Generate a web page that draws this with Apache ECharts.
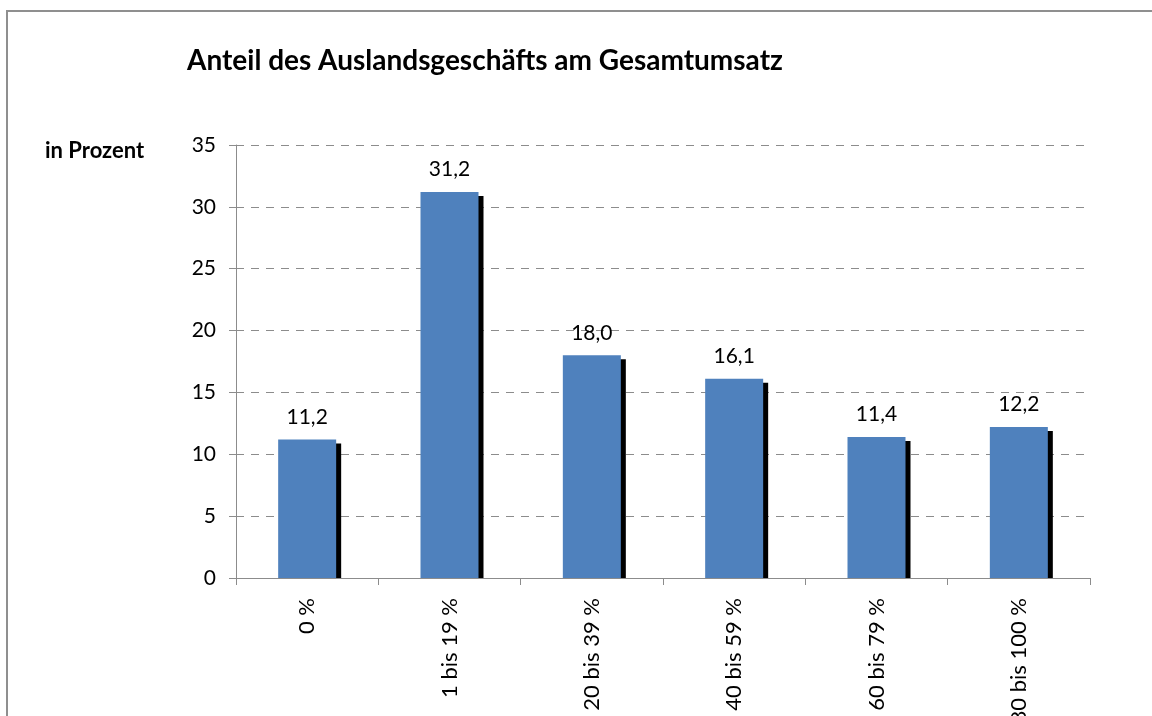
<!DOCTYPE html>
<html lang="de">
<head>
    <meta charset="UTF-8">
    <title>Anteil des Auslandsgeschäfts am Gesamtumsatz</title>
    <script src="https://cdn.jsdelivr.net/npm/echarts@6/dist/echarts.min.js"></script>
    <style>
        body { margin: 0; overflow: hidden; background: #fff; }
        #frame { position: absolute; left: 6px; top: 10px; width: 1300px; height: 900px; border: 2px solid #8f8f8f; }
        #chart { position: absolute; left: 0; top: 0; width: 1152px; height: 716px; }
    </style>
</head>
<body>
<div id="frame"></div>
<div id="chart"></div>
<script>
    // Kategorien und Werte (in Prozent)
    var categories = ['0 %', '1 bis 19 %', '20 bis 39 %', '40 bis 59 %', '60 bis 79 %', '80 bis 100 %'];
    var values = [11.2, 31.2, 18.0, 16.1, 11.4, 12.2];
    var yTicks = [0, 5, 10, 15, 20, 25, 30, 35];

    var font = 'Lato, "Open Sans", sans-serif';
    var gridLeft = 236, gridRight = 62, gridTop = 145, gridBottom = 138;
    var chart = echarts.init(document.getElementById('chart'));

    var option = {
        animation: false,
        title: [{
            text: 'Anteil des Auslandsgeschäfts am Gesamtumsatz',
            left: 182,
            top: 42,
            textStyle: { color: '#000', fontWeight: 'bold', fontFamily: font, fontSize: 28 }
        }, {
            text: 'in Prozent',
            left: 40,
            top: 135,
            textStyle: { color: '#000', fontWeight: 'bold', fontFamily: font, fontSize: 22 }
        }],
        grid: {
            left: gridLeft, right: gridRight, top: gridTop, bottom: gridBottom,
            containLabel: false, outerBoundsMode: 'none'
        },
        // weisser Streifen unter der Achse, damit der Schatten dort endet
        graphic: [{
            type: 'rect',
            z: 50,
            shape: { x: gridLeft + 1, y: 716 - gridBottom + 1, width: 1152 - gridLeft - gridRight, height: 5 },
            style: { fill: '#fff' }
        }],
        xAxis: {
            type: 'category',
            data: categories,
            z: 60,
            axisLine: { lineStyle: { color: '#8c8c8c', width: 1 } },
            axisTick: { show: true, length: 7, lineStyle: { color: '#8c8c8c' } },
            axisLabel: { rotate: 90, margin: 20, color: '#000', fontFamily: font, fontSize: 22, interval: 0 }
        },
        yAxis: {
            type: 'value',
            min: yTicks[0],
            max: yTicks[yTicks.length - 1],
            interval: 5,
            axisLine: { show: true, lineStyle: { color: '#8c8c8c', width: 1 } },
            axisTick: { show: true, length: 7, lineStyle: { color: '#8c8c8c' } },
            axisLabel: { margin: 20, color: '#000', fontFamily: font, fontSize: 21 },
            splitLine: { show: true, lineStyle: { color: '#8c8c8c', type: [8, 7], width: 1 } }
        },
        series: [{
            type: 'bar',
            data: values,
            barWidth: 58,
            itemStyle: {
                color: '#4f81bd',
                shadowColor: '#000',
                shadowBlur: 0,
                shadowOffsetX: 5,
                shadowOffsetY: 4
            },
            label: {
                show: true,
                position: 'top',
                distance: 12,
                color: '#000',
                fontFamily: font,
                fontSize: 21,
                formatter: function (p) { return p.value.toFixed(1).replace('.', ','); }
            }
        }]
    };

    chart.setOption(option);
</script>
</body>
</html>
